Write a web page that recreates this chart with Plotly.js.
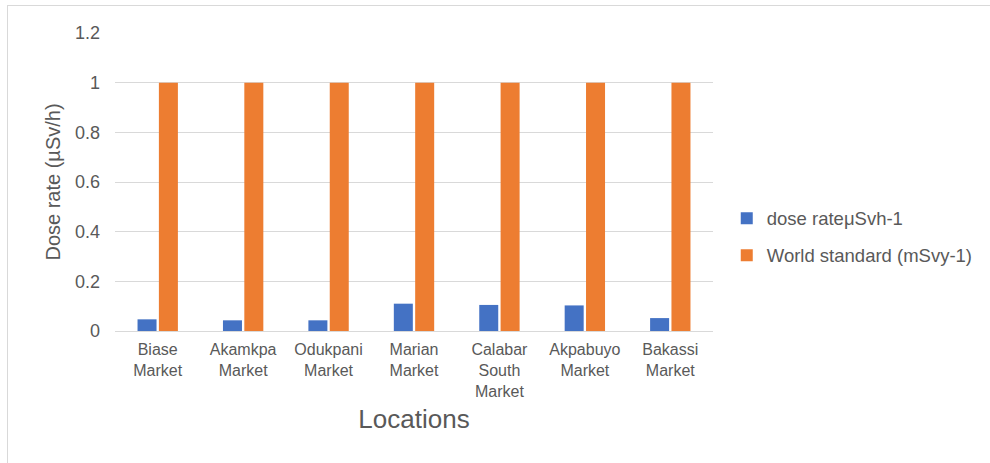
<!DOCTYPE html>
<html>
<head>
<meta charset="utf-8">
<script src="https://cdn.plot.ly/plotly-3.0.1.min.js"></script>
<style>
html,body{margin:0;padding:0;background:#fff;}
#frame{position:absolute;left:7px;top:5px;width:983px;height:458px;border-left:1px solid #d9d9d9;border-top:1px solid #d9d9d9;box-sizing:border-box;}
#chart{position:absolute;left:0;top:0;width:990px;height:463px;}
</style>
</head>
<body>
<div id="frame"></div>
<div id="chart"></div>
<script>
const categories = ["Biase<br>Market","Akamkpa<br>Market","Odukpani<br>Market","Marian<br>Market","Calabar<br>South<br>Market","Akpabuyo<br>Market","Bakassi<br>Market"];
const doseRate = [0.047, 0.043, 0.043, 0.11, 0.105, 0.103, 0.052];
const worldStandard = [1, 1, 1, 1, 1, 1, 1];
const yTicks = [0, 0.2, 0.4, 0.6, 0.8, 1, 1.2];
const yTickLabels = ["0","0.2","0.4","0.6","0.8","1","1.2"];

const font = {family: "Liberation Sans, Arial, sans-serif", color: "#595959", size: 16};

const traces = [
  {type: "bar", name: "dose rateμSvh-1", x: categories, y: doseRate, marker: {color: "#4472c4"}, legendgroup: "a"},
  {type: "bar", name: "World standard (mSvy-1)", x: categories, y: worldStandard, marker: {color: "#ed7d31"}, legendgroup: "b"}
];

const layout = {
  width: 990, height: 463,
  paper_bgcolor: "rgba(0,0,0,0)", plot_bgcolor: "rgba(0,0,0,0)",
  font: font,
  margin: {l: 115, r: 277, t: 33, b: 132},
  barmode: "group", bargap: 0.5, bargroupgap: 0.11,
  showlegend: true,
  legend: {x: 1.023, xanchor: "left", y: 0.315, yanchor: "middle", font: {size: 18.5, color: "#595959"}, tracegroupgap: 10, itemwidth: 30},
  xaxis: {
    type: "category", tickfont: {size: 16, color: "#595959"},
    showline: true, linecolor: "#d9d9d9", linewidth: 1,
    ticks: "", showgrid: false, automargin: false, ticklabelstandoff: 4,
    title: {text: "Locations", font: {size: 26, color: "#595959"}, standoff: 11}
  },
  yaxis: {
    range: [0, 1.2], tickvals: yTicks, ticktext: yTickLabels,
    tickfont: {size: 18, color: "#595959"},
    showgrid: true, gridcolor: "#d9d9d9", gridwidth: 1,
    zeroline: false, showline: false, ticks: "", ticklen: 0,
    automargin: false, ticklabelstandoff: 14,
    title: {text: "Dose rate (µSv/h)", font: {size: 20, color: "#595959"}, standoff: 8}
  }
};

Plotly.newPlot("chart", traces, layout, {displayModeBar: false, staticPlot: true});
</script>
</body>
</html>
